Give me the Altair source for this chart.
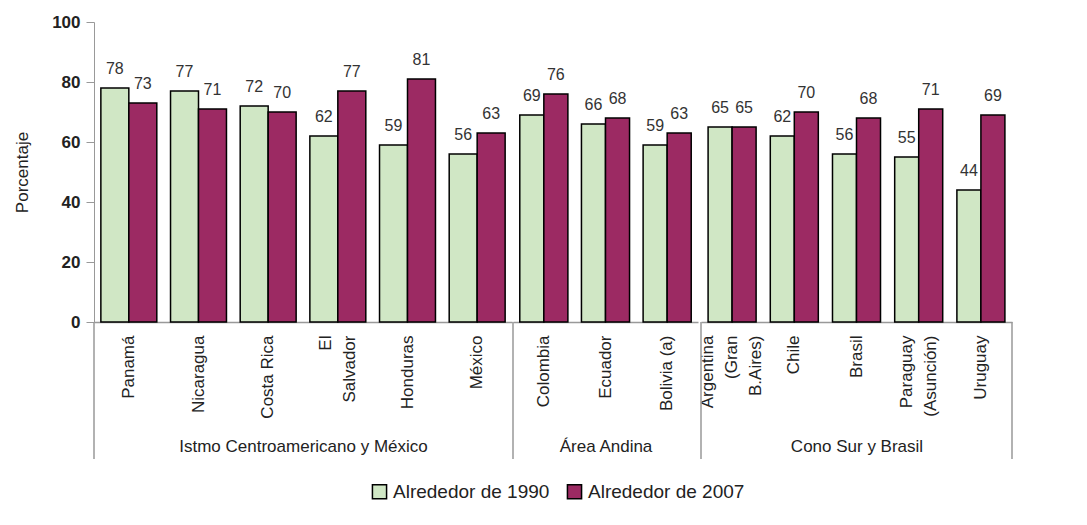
import altair as alt
import pandas as pd

series = ["Alrededor de 1990", "Alrededor de 2007"]
groups = ["Istmo Centroamericano y México", "Área Andina", "Cono Sur y Brasil"]

countries_g1 = ["Panamá", "Nicaragua", "Costa Rica", "El\nSalvador", "Honduras", "México"]
v1990_g1 = [78, 77, 72, 62, 59, 56]
v2007_g1 = [73, 71, 70, 77, 81, 63]

countries_g2 = ["Colombia", "Ecuador", "Bolivia (a)"]
v1990_g2 = [69, 66, 59]
v2007_g2 = [76, 68, 63]

countries_g3 = ["Argentina\n(Gran\nB.Aires)", "Chile", "Brasil", "Paraguay\n(Asunción)", "Uruguay"]
v1990_g3 = [65, 62, 56, 55, 44]
v2007_g3 = [65, 70, 68, 71, 69]

y_ticks = [0, 20, 40, 60, 80, 100]

GREEN = "#d0e7c5"
MAGENTA = "#9c2a63"
FONT = "Liberation Sans"
H = 300
LINE_H = 24


def make_df(countries, a, b):
    rows = []
    for c, x1, x2 in zip(countries, a, b):
        rows.append({"country": c, "serie": series[0], "value": x1})
        rows.append({"country": c, "serie": series[1], "value": x2})
    return pd.DataFrame(rows)


def panel(countries, a, b, group, width, pad, first=False, last=False):
    df = make_df(countries, a, b)
    yaxis = alt.Axis(
        title="Porcentaje", values=y_ticks, grid=False, domainColor="#999",
        tickColor="#999", tickSize=8, labelFontSize=17, labelFontWeight="bold",
        labelColor="#222", labelPadding=6, titleFontSize=17, titleFontWeight="normal",
        titleColor="#222", titlePadding=20, labelFont=FONT, titleFont=FONT,
    ) if first else None
    base = alt.Chart(df).encode(
        x=alt.X(
            "country:N", sort=countries,
            scale=alt.Scale(paddingInner=pad, paddingOuter=pad / 2),
            axis=alt.Axis(
                title=group, labelAngle=-90, ticks=False, domainColor="#999",
                domainWidth=1.5, labelFontSize=17, labelColor="#222", labelPadding=13,
                labelFont=FONT, labelLineHeight=LINE_H, labelBaseline="middle",
                labelAlign="right",
                labelExpr="split(datum.label, '\\n')",
                labelOffset=alt.expr(
                    f"-(length(split(datum.label, '\\n')) - 1) * {LINE_H / 2}"
                ),
                titleFont=FONT, titleFontSize=17, titleFontWeight="normal",
                titleColor="#222", titleY=129, titleBaseline="alphabetic",
            ),
        ),
        xOffset=alt.XOffset("serie:N", sort=series,
                            scale=alt.Scale(paddingInner=0, paddingOuter=0)),
        y=alt.Y("value:Q", scale=alt.Scale(domain=[0, 100]), axis=yaxis),
    )
    bars = base.mark_bar(stroke="black", strokeWidth=1.5).encode(
        color=alt.Color(
            "serie:N",
            scale=alt.Scale(domain=series, range=[GREEN, MAGENTA]),
            legend=alt.Legend(
                title=None, orient="none", direction="horizontal",
                legendX=276, legendY=460, symbolType="square", symbolSize=200,
                symbolStrokeColor="black", symbolStrokeWidth=1.5,
                labelFontSize=19, labelFont=FONT, labelColor="#222",
                labelOffset=4, columnPadding=14,
            ),
        )
    )
    labels = base.mark_text(
        baseline="alphabetic", dy=-14, fontSize=16, font=FONT, color="#333"
    ).encode(text="value:Q")
    layers = [bars, labels]
    sep_df = pd.DataFrame({"k": [0]})
    layers.append(
        alt.Chart(sep_df).mark_rule(color="#999", strokeWidth=1.5).encode(
            x=alt.value(0), y=alt.value(H), y2=alt.value(H + 137)
        )
    )
    if last:
        layers.append(
            alt.Chart(sep_df).mark_rule(color="#999", strokeWidth=1.5).encode(
                x=alt.value(width), y=alt.value(H), y2=alt.value(H + 137)
            )
        )
    return alt.layer(*layers).properties(width=width, height=H)


p1 = panel(countries_g1, v1990_g1, v2007_g1, groups[0], 418, 0.197, first=True)
p2 = panel(countries_g2, v1990_g2, v2007_g2, groups[1], 185, 0.22)
p3 = panel(countries_g3, v1990_g3, v2007_g3, groups[2], 311, 0.228, last=True)

chart = alt.hconcat(p1, p2, p3, spacing=0).resolve_scale(
    x="independent", xOffset="independent"
).configure(background="white").configure_view(stroke=None, strokeWidth=0)

chart.save("out.html", embed_options={"renderer": "svg", "actions": False})
